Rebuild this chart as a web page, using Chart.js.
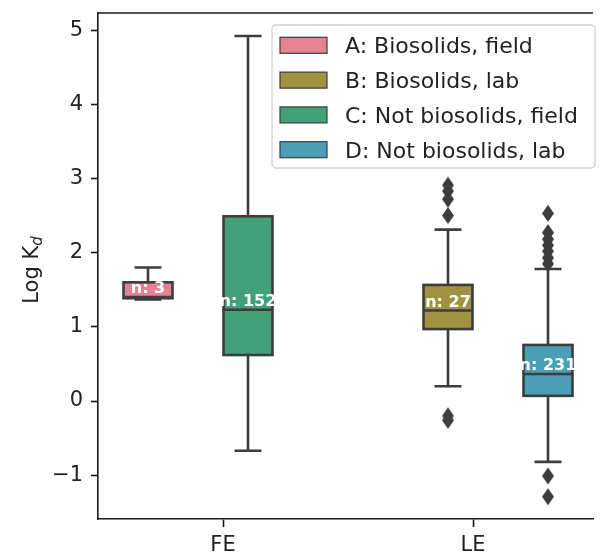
<!DOCTYPE html>
<html>
<head>
<meta charset="utf-8">
<script src="https://cdn.jsdelivr.net/npm/chart.js@4/dist/chart.umd.min.js"></script>
<style>
  html, body { margin: 0; padding: 0; background: #fff; overflow: hidden; }
  canvas { display: block; }
</style>
</head>
<body>
<canvas id="chart" width="602" height="557"></canvas>
<script>
// Categories on the x axis and the hue groups drawn inside them
const categories = ['FE', 'LE'];
const groups = ['A: Biosolids, field', 'B: Biosolids, lab', 'C: Not biosolids, field', 'D: Not biosolids, lab'];
const groupCategory = ['FE', 'LE', 'FE', 'LE'];
const groupColors = ['#e68294', '#a09240', '#43a078', '#4a9eb5'];

// Five-number summaries of log Kd per group
const whiskerLow  = [1.37, 0.20, -0.67, -0.82];
const q1          = [1.385, 0.97, 0.62, 0.07];
const median      = [1.40, 1.22, 1.23, 0.365];
const q3          = [1.60, 1.565, 2.49, 0.756];
const whiskerHigh = [1.80, 2.31, 4.92, 1.78];
const outliers = [
  [],
  [2.91, 2.83, 2.72, 2.50, -0.20, -0.26],
  [],
  [2.53, 2.27, 2.18, 2.10, 2.02, 1.93, 1.85, -1.01, -1.29]
];
const counts = [3, 27, 152, 231];
const yTicks = [-1, 0, 1, 2, 3, 4, 5];

const FONT = 'DejaVu Sans';
const LINE = '#3d3d3d';
const dodge = 0.8 / groups.length;
const boxWidth = dodge * 0.98;
const xPos = groups.map((g, i) => categories.indexOf(groupCategory[i]) - 0.4 + dodge * (i + 0.5));

// thin diamond used for the outlier markers
function thinDiamond(w, h, color) {
  const c = document.createElement('canvas');
  c.width = w + 2; c.height = h + 2;
  const g = c.getContext('2d');
  g.fillStyle = color;
  g.beginPath();
  g.moveTo(c.width / 2, 1);
  g.lineTo(c.width - 1, c.height / 2);
  g.lineTo(c.width / 2, c.height - 1);
  g.lineTo(1, c.height / 2);
  g.closePath();
  g.fill();
  return c;
}
const diamondMark = thinDiamond(12, 17, LINE);

const boxPlugin = {
  id: 'boxes',
  beforeDatasetsDraw(chart) {
    const { ctx, scales: { x, y } } = chart;
    ctx.save();
    groups.forEach((g, i) => {
      const cx = x.getPixelForValue(xPos[i]);
      const left = x.getPixelForValue(xPos[i] - boxWidth / 2);
      const right = x.getPixelForValue(xPos[i] + boxWidth / 2);
      const capHalf = (right - left) * 0.275;
      const yLo = y.getPixelForValue(whiskerLow[i]);
      const yHi = y.getPixelForValue(whiskerHigh[i]);
      const yQ1 = y.getPixelForValue(q1[i]);
      const yQ3 = y.getPixelForValue(q3[i]);
      const yMed = y.getPixelForValue(median[i]);
      ctx.strokeStyle = LINE;
      ctx.lineWidth = 2.6;
      ctx.lineCap = 'butt';
      ctx.beginPath();
      ctx.moveTo(cx, yQ3); ctx.lineTo(cx, yHi);
      ctx.moveTo(cx, yQ1); ctx.lineTo(cx, yLo);
      ctx.moveTo(cx - capHalf, yHi); ctx.lineTo(cx + capHalf, yHi);
      ctx.moveTo(cx - capHalf, yLo); ctx.lineTo(cx + capHalf, yLo);
      ctx.stroke();
      ctx.fillStyle = groupColors[i];
      ctx.fillRect(left, yQ3, right - left, yQ1 - yQ3);
      ctx.strokeRect(left, yQ3, right - left, yQ1 - yQ3);
      ctx.beginPath();
      ctx.moveTo(left, yMed); ctx.lineTo(right, yMed);
      ctx.stroke();
    });
    ctx.restore();
  },
  afterDatasetsDraw(chart) {
    const { ctx, scales: { x, y } } = chart;
    ctx.save();
    ctx.fillStyle = '#ffffff';
    ctx.font = 'bold 16px "' + FONT + '"';
    ctx.textAlign = 'center';
    ctx.textBaseline = 'bottom';
    groups.forEach((g, i) => {
      ctx.fillText('n: ' + counts[i], x.getPixelForValue(xPos[i]), y.getPixelForValue(median[i]));
    });
    ctx.restore();
  },
  afterDraw(chart) {
    const { ctx, chartArea } = chart;
    ctx.save();
    // top spine
    ctx.strokeStyle = '#1a1a1a';
    ctx.lineWidth = 1.6;
    ctx.beginPath();
    ctx.moveTo(chartArea.left - 0.8, chartArea.top);
    ctx.lineTo(chartArea.right, chartArea.top);
    ctx.stroke();

    // legend
    const lx = 272, ly = 25, lw = 323, lh = 143;
    ctx.beginPath();
    ctx.roundRect(lx, ly, lw, lh, 4);
    ctx.fillStyle = 'rgba(255,255,255,0.8)';
    ctx.fill();
    ctx.strokeStyle = '#d0d0d0';
    ctx.lineWidth = 1.3;
    ctx.stroke();
    ctx.font = '22px "' + FONT + '"';
    ctx.textAlign = 'left';
    ctx.textBaseline = 'alphabetic';
    groups.forEach((g, i) => {
      const cy = 45.3 + i * 34.8;
      ctx.fillStyle = groupColors[i];
      ctx.fillRect(280, cy - 8, 47, 16);
      ctx.strokeStyle = LINE;
      ctx.lineWidth = 1.2;
      ctx.strokeRect(280, cy - 8, 47, 16);
      ctx.fillStyle = '#222';
      ctx.fillText(g, 345, cy + 8);
    });

    // y axis title with subscript
    const main = 'Log K', sub = 'd';
    ctx.font = '21px "' + FONT + '"';
    const wMain = ctx.measureText(main).width;
    ctx.font = 'italic 15px "' + FONT + '"';
    const wSub = ctx.measureText(sub).width;
    const midY = (chartArea.top + chartArea.bottom) / 2;
    ctx.translate(38, midY + 4 + (wMain + wSub) / 2);
    ctx.rotate(-Math.PI / 2);
    ctx.fillStyle = '#222';
    ctx.font = '21px "' + FONT + '"';
    ctx.fillText(main, 0, 0);
    ctx.font = 'italic 15px "' + FONT + '"';
    ctx.fillText(sub, wMain, 4);
    ctx.restore();
  }
};

const datasets = groups.map((g, i) => ({
  label: g,
  data: outliers[i].map(v => ({ x: xPos[i], y: v })),
  backgroundColor: groupColors[i],
  pointStyle: diamondMark,
  pointRadius: 8
}));

new Chart(document.getElementById('chart'), {
  type: 'scatter',
  data: { datasets },
  plugins: [boxPlugin],
  options: {
    responsive: false,
    animation: false,
    devicePixelRatio: 1,
    layout: { padding: { top: 13, left: 0, right: 0, bottom: 0 } },
    plugins: { legend: { display: false }, tooltip: { enabled: false } },
    scales: {
      x: {
        type: 'linear',
        min: -0.5,
        max: 1.48,
        bounds: 'data',
        afterBuildTicks: s => { s.ticks = categories.map((c, i) => ({ value: i })); },
        afterFit: s => { s.height = 38; s.paddingLeft = 0; s.paddingRight = 0; },
        ticks: {
          callback: (v, i) => categories[i],
          font: { family: FONT, size: 21 },
          color: '#222',
          padding: 6,
          maxRotation: 0,
          autoSkip: false
        },
        grid: { drawOnChartArea: false, drawTicks: true, tickLength: 8, tickWidth: 1.6, tickColor: '#1a1a1a' },
        border: { display: true, color: '#1a1a1a', width: 1.6 }
      },
      y: {
        type: 'linear',
        min: -1.59,
        max: 5.23,
        bounds: 'data',
        afterBuildTicks: s => { s.ticks = yTicks.map(v => ({ value: v })); },
        afterFit: s => { s.width = 98; s.paddingTop = 0; s.paddingBottom = 0; },
        ticks: {
          callback: v => (v < 0 ? '\u2212' + Math.abs(v) : String(v)),
          font: { family: FONT, size: 21 },
          color: '#222',
          padding: 8
        },
        grid: { drawOnChartArea: false, drawTicks: true, tickLength: 7, tickWidth: 1.6, tickColor: '#1a1a1a' },
        border: { display: true, color: '#1a1a1a', width: 1.6 }
      }
    }
  }
});
</script>
</body>
</html>
